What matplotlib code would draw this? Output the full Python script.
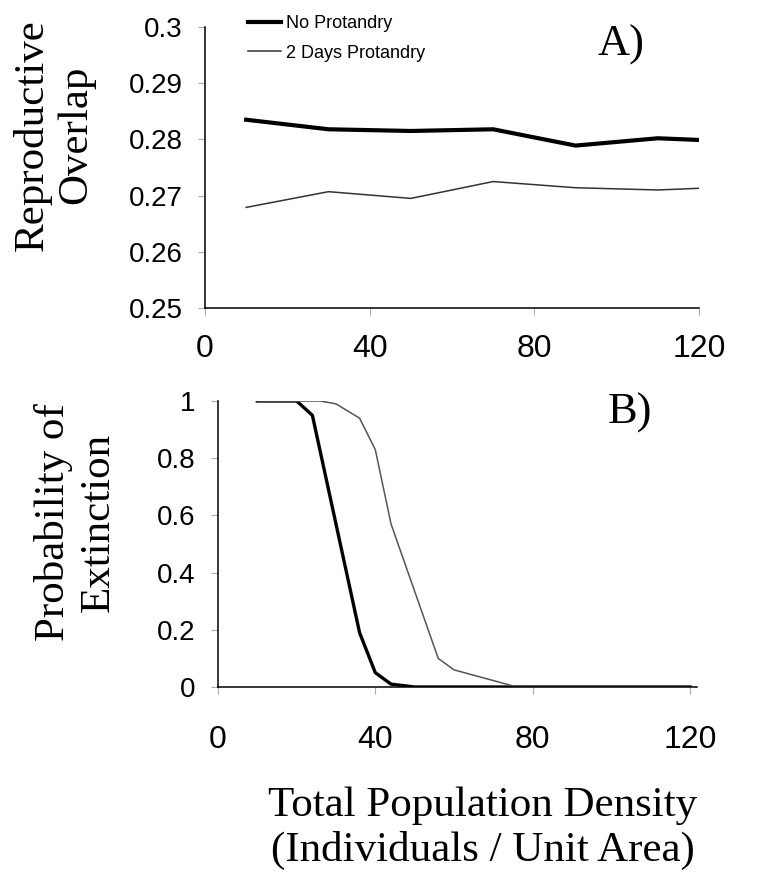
import matplotlib
matplotlib.use('Agg')
import matplotlib.pyplot as plt

# panel A data: reproductive overlap vs density
dens_a = [10, 30, 50, 70, 90, 110, 120]
overlap_none = [0.2835, 0.2818, 0.2815, 0.2818, 0.2789, 0.2802, 0.2799]
overlap_2day = [0.2679, 0.2707, 0.2695, 0.2725, 0.2714, 0.2710, 0.2713]

# panel B data: probability of extinction vs density
dens_b_none = [10, 20, 24, 36, 40, 44, 50, 120]
ext_none = [1.0, 1.0, 0.95, 0.19, 0.05, 0.01, 0.0, 0.0]
dens_b_2day = [10, 26, 30, 36, 40, 44, 56, 60, 76, 120]
ext_2day = [1.0, 1.0, 0.99, 0.94, 0.83, 0.57, 0.10, 0.06, 0.0, 0.0]

yticks_a = [0.25, 0.26, 0.27, 0.28, 0.29, 0.30]
yticklabels_a = ['0.25', '0.26', '0.27', '0.28', '0.29', '0.3']
yticks_b = [0, 0.2, 0.4, 0.6, 0.8, 1.0]
yticklabels_b = ['0', '0.2', '0.4', '0.6', '0.8', '1']
xticks = [0, 40, 80, 120]

SANS = 'Liberation Sans'
SERIF = 'Liberation Serif'
W, H = 781, 874


def style_axes(ax, xtick_pad, ytick_pad):
    for s in ['top', 'right']:
        ax.spines[s].set_visible(False)
    for s in ['left', 'bottom']:
        ax.spines[s].set_linewidth(1.1)
        ax.spines[s].set_color('black')
    ax.tick_params(axis='both', direction='out', length=5, width=0.8, color='#aaaaaa')
    ax.tick_params(axis='x', pad=xtick_pad, labelsize=23)
    ax.tick_params(axis='y', pad=ytick_pad, labelsize=20)
    for lab in ax.get_xticklabels() + ax.get_yticklabels():
        lab.set_family(SANS)
    # black ticks at the origin so the axes look like they cross
    ax.xaxis.get_major_ticks()[0].tick1line.set_color('black')
    ax.yaxis.get_major_ticks()[0].tick1line.set_color('black')


fig = plt.figure(figsize=(W / 100, H / 100), dpi=100)

ax1 = fig.add_axes([205 / W, 1 - 308 / H, (699 - 205) / W, (308 - 27) / H])
ax1.plot(dens_a, overlap_none, color='black', lw=3.0, label='No Protandry')
ax1.plot(dens_a, overlap_2day, color='#333333', lw=1.1, label='2 Days Protandry')
ax1.set_xlim(0, 120)
ax1.set_ylim(0.25, 0.30)
ax1.set_xticks(xticks)
ax1.set_yticks(yticks_a)
ax1.set_yticklabels(yticklabels_a)
style_axes(ax1, 14, 11)

leg = ax1.legend(loc='upper left', bbox_to_anchor=(248 / W, 1 - 15 / H),
                 bbox_transform=fig.transFigure, frameon=False, borderpad=0,
                 borderaxespad=0, handlelength=1.85, handletextpad=0.25,
                 labelspacing=0.7, prop={'family': SANS, 'size': 13})

ax2 = fig.add_axes([218 / W, 1 - 687 / H, (697 - 218) / W, (687 - 401) / H])
ax2.plot(dens_b_none, ext_none, color='black', lw=2.4)
ax2.plot(dens_b_2day, ext_2day, color='#555555', lw=1.1)
ax2.set_xlim(0, 121.8)
ax2.set_ylim(0, 1)
ax2.set_xticks(xticks)
ax2.set_yticks(yticks_b)
ax2.set_yticklabels(yticklabels_b)
style_axes(ax2, 22, 11.5)

fig.text(54 / W, 1 - 135 / H, 'Reproductive\nOverlap', rotation=90, ha='center',
         va='center', multialignment='center', family=SERIF, fontsize=31)
fig.text(76 / W, 1 - 522 / H, 'Probability of\nExtinction', rotation=90, ha='center',
         va='center', multialignment='center', family=SERIF, fontsize=31)
fig.text(483 / W, 1 - 828 / H, 'Total Population Density\n(Individuals / Unit Area)',
         ha='center', va='center', multialignment='center', family=SERIF, fontsize=31)
fig.text(598 / W, 1 - 45 / H, 'A)', ha='left', va='center', family=SERIF, fontsize=32)
fig.text(608 / W, 1 - 413 / H, 'B)', ha='left', va='center', family=SERIF, fontsize=32)

fig.savefig('out.png', dpi=100)
